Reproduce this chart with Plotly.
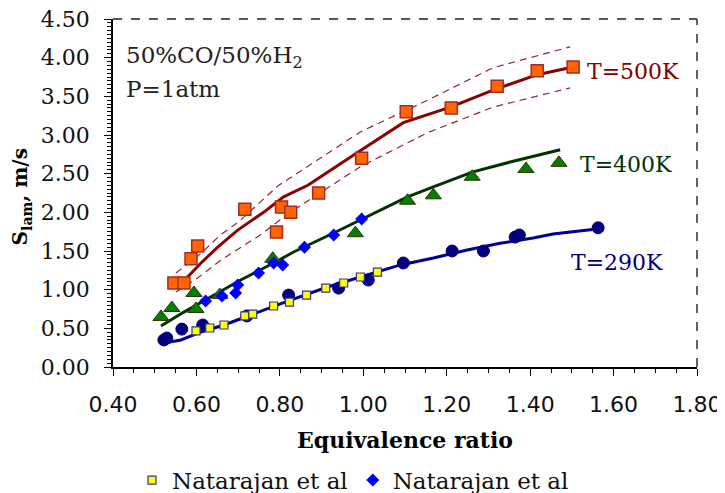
import plotly.graph_objects as go

# ---- data ----
exp500_x = [0.546, 0.570, 0.587, 0.603, 0.716, 0.792, 0.804, 0.826, 0.893, 0.996, 1.103, 1.211, 1.321, 1.417, 1.503]
exp500_y = [1.086, 1.086, 1.40, 1.565, 2.04, 1.746, 2.07, 2.00, 2.25, 2.70, 3.30, 3.35, 3.63, 3.83, 3.88]

mod500_x = [0.555, 0.611, 0.651, 0.699, 0.761, 0.809, 0.867, 0.922, 0.988, 1.096, 1.209, 1.311, 1.417, 1.503]
mod500_y = [1.03, 1.345, 1.55, 1.77, 2.00, 2.20, 2.35, 2.55, 2.78, 3.16, 3.36, 3.58, 3.78, 3.88]

up500_x = [0.551, 0.611, 0.658, 0.701, 0.795, 0.993, 1.154, 1.311, 1.496]
up500_y = [1.216, 1.47, 1.71, 1.875, 2.34, 3.04, 3.45, 3.87, 4.14]
lo500_x = [0.551, 0.603, 0.658, 0.706, 0.754, 0.819, 0.993, 1.154, 1.311, 1.496]
lo500_y = [0.97, 1.15, 1.38, 1.54, 1.71, 1.98, 2.59, 3.03, 3.36, 3.61]

exp400_x = [0.515, 0.541, 0.594, 0.599, 0.656, 0.783, 0.981, 1.106, 1.168, 1.261, 1.390, 1.469]
exp400_y = [0.647, 0.763, 0.957, 0.75, 0.93, 1.40, 1.73, 2.15, 2.22, 2.46, 2.56, 2.64]

mod400_x = [0.515, 0.570, 0.634, 0.706, 0.785, 0.833, 0.929, 0.993, 1.106, 1.168, 1.261, 1.352, 1.424, 1.472]
mod400_y = [0.53, 0.71, 0.905, 1.125, 1.345, 1.487, 1.733, 1.90, 2.20, 2.33, 2.52, 2.65, 2.75, 2.81]

nat400_x = [0.622, 0.661, 0.694, 0.699, 0.749, 0.785, 0.807, 0.859, 0.929, 0.996]
nat400_y = [0.853, 0.918, 0.957, 1.06, 1.216, 1.345, 1.32, 1.55, 1.707, 1.914]

exp290_x = [0.522, 0.529, 0.565, 0.615, 0.721, 0.821, 0.941, 1.012, 1.096, 1.213, 1.288, 1.364, 1.374, 1.563]
exp290_y = [0.35, 0.375, 0.49, 0.543, 0.66, 0.93, 1.02, 1.125, 1.345, 1.50, 1.50, 1.68, 1.707, 1.80]

mod290_x = [0.522, 0.563, 0.611, 0.666, 0.730, 0.819, 0.914, 1.010, 1.089, 1.168, 1.249, 1.328, 1.407, 1.455, 1.560]
mod290_y = [0.31, 0.35, 0.453, 0.543, 0.672, 0.853, 1.034, 1.19, 1.32, 1.41, 1.513, 1.60, 1.668, 1.72, 1.785]

nat290_x = [0.599, 0.632, 0.666, 0.716, 0.735, 0.785, 0.823, 0.864, 0.910, 0.953, 0.993, 1.034]
nat290_y = [0.466, 0.504, 0.543, 0.66, 0.685, 0.789, 0.84, 0.93, 1.02, 1.086, 1.164, 1.228]

legend_name = "Natarajan et al"
x_ticks = [0.4, 0.6, 0.8, 1.0, 1.2, 1.4, 1.6, 1.8]
y_ticks = [0.0, 0.5, 1.0, 1.5, 2.0, 2.5, 3.0, 3.5, 4.0, 4.5]

RED = "#8B0000"
GREEN = "#003300"
NAVY = "#000099"
SERIF = "DejaVu Serif"

fig = go.Figure()

# dashed bounds 500K
for xs, ys in [(up500_x, up500_y), (lo500_x, lo500_y)]:
    fig.add_trace(go.Scatter(x=xs, y=ys, mode="lines", showlegend=False,
                             line=dict(color="#A0202A", width=1.2, dash="7px,5px")))

# model lines
fig.add_trace(go.Scatter(x=mod500_x, y=mod500_y, mode="lines", showlegend=False,
                         line=dict(color=RED, width=3)))
fig.add_trace(go.Scatter(x=mod400_x, y=mod400_y, mode="lines", showlegend=False,
                         line=dict(color=GREEN, width=3)))
fig.add_trace(go.Scatter(x=mod290_x, y=mod290_y, mode="lines", showlegend=False,
                         line=dict(color=NAVY, width=3)))

# experiments
fig.add_trace(go.Scatter(x=exp500_x, y=exp500_y, mode="markers", showlegend=False,
                         marker=dict(symbol="square", size=12, color="#FF6600",
                                     line=dict(color="#A52A2A", width=1.5))))
fig.add_trace(go.Scatter(x=exp400_x, y=exp400_y, mode="markers", showlegend=False,
                         marker=dict(symbol="triangle-up", size=14, color="#008000",
                                     line=dict(color="#333300", width=1))))
fig.add_trace(go.Scatter(x=exp290_x, y=exp290_y, mode="markers", showlegend=False,
                         marker=dict(symbol="circle", size=12, color="#000080",
                                     line=dict(color="#000080", width=1))))
fig.add_trace(go.Scatter(x=nat290_x, y=nat290_y, mode="markers", name=legend_name,
                         marker=dict(symbol="square", size=8, color="#FFFF00",
                                     line=dict(color="#333399", width=1.2))))
fig.add_trace(go.Scatter(x=nat400_x, y=nat400_y, mode="markers", name=legend_name,
                         marker=dict(symbol="diamond", size=10, color="#0000FF",
                                     line=dict(color="#0000FF", width=0))))

# borders: dashed top and right
fig.add_shape(type="line", xref="paper", yref="paper", x0=0, x1=1, y0=1, y1=1, layer="above",
              line=dict(color="#222222", width=1.4, dash="dash"))
fig.add_shape(type="line", xref="paper", yref="paper", x0=1, x1=1, y0=0, y1=1, layer="above",
              line=dict(color="#222222", width=1.4, dash="dash"))

ann_font = dict(family=SERIF, size=23, color="#222222")
fig.add_annotation(x=0.018, y=0.892, xref="paper", yref="paper", xanchor="left", yanchor="middle",
                   text="50%CO/50%H<sub>2</sub>", showarrow=False, font=ann_font)
fig.add_annotation(x=0.018, y=0.80, xref="paper", yref="paper", xanchor="left", yanchor="middle",
                   text="P=1atm", showarrow=False, font=ann_font)
fig.add_annotation(x=1.532, y=3.82, xanchor="left", yanchor="middle", text="T=500K",
                   showarrow=False, font=dict(family=SERIF, size=22, color="#800000"))
fig.add_annotation(x=1.515, y=2.62, xanchor="left", yanchor="middle", text="T=400K",
                   showarrow=False, font=dict(family=SERIF, size=22, color="#003300"))
fig.add_annotation(x=1.494, y=1.35, xanchor="left", yanchor="middle", text="T=290K",
                   showarrow=False, font=dict(family=SERIF, size=22, color="#000080"))
# y-axis title
fig.add_annotation(x=-0.156, y=0.49, xref="paper", yref="paper", xanchor="center", yanchor="middle",
                   text="<b>S<sub>lam</sub>, m/s</b>", textangle=-90, showarrow=False,
                   font=dict(family=SERIF, size=20, color="black"))

fig.update_layout(
    width=717, height=485,
    margin=dict(l=105, r=28, t=11, b=126, autoexpand=False),
    paper_bgcolor="white", plot_bgcolor="white",
    showlegend=True,
    legend=dict(orientation="h", x=0.411, xanchor="center", y=-0.325, yanchor="middle",
                font=dict(family=SERIF, size=23, color="#111111"), itemwidth=30,
                bgcolor="rgba(0,0,0,0)"),
    xaxis=dict(range=[0.4, 1.8], tickvals=x_ticks, ticktext=[f"{v:.2f}" for v in x_ticks],
               showgrid=False, zeroline=False, showline=True, linecolor="black", linewidth=1.5,
               ticks="outside", ticklen=7, tickcolor="black", automargin=False,
               ticklabelstandoff=10, ticklabeloverflow="allow",
               minor=dict(dtick=0.05, ticks="outside", ticklen=4, tickcolor="black"),
               tickfont=dict(family="DejaVu Sans", size=22, color="#111111"),
               title=dict(text="<b>Equivalence ratio</b>", standoff=16,
                          font=dict(family=SERIF, size=22, color="black"))),
    yaxis=dict(range=[0, 4.5], tickvals=y_ticks, ticktext=[f"{v:.2f}" for v in y_ticks],
               showgrid=False, zeroline=False, showline=True, linecolor="black", linewidth=1.5,
               ticks="outside", ticklen=7, tickcolor="black", automargin=False,
               ticklabelstandoff=10, ticklabeloverflow="allow",
               minor=dict(dtick=0.05, ticks="outside", ticklen=4, tickcolor="black"),
               tickfont=dict(family=SERIF, size=22, color="#111111")),
)

fig.write_html("out.html")
